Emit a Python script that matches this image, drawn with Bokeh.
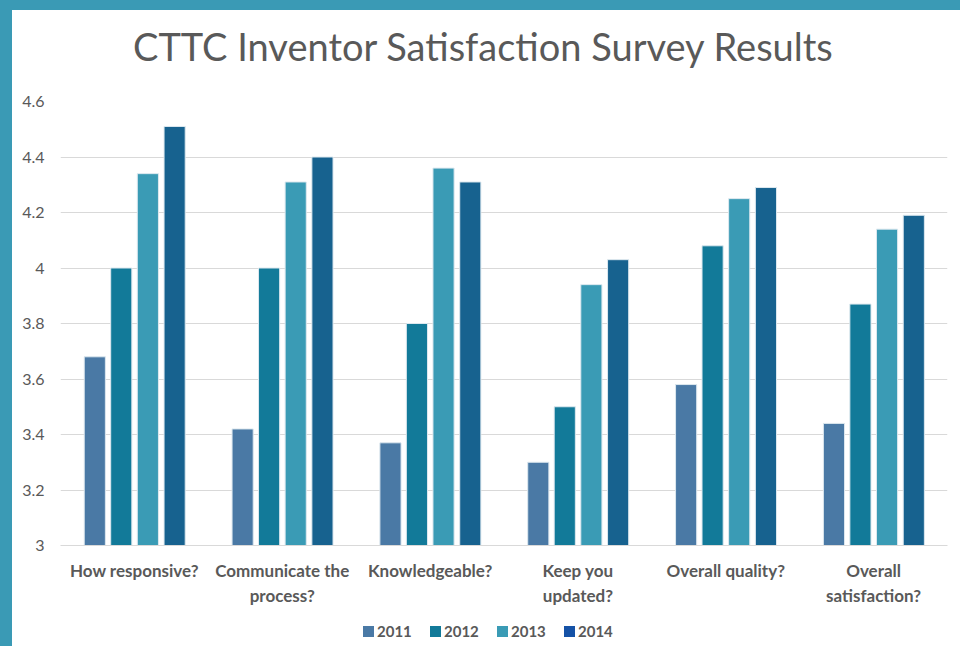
from bokeh.plotting import figure
from bokeh.models import FactorRange, Range1d, FixedTicker, ColumnDataSource, Div
from bokeh.layouts import column, row
from bokeh.transform import dodge
from bokeh.embed import file_html
from bokeh.resources import INLINE

title_text = "CTTC Inventor Satisfaction Survey Results"
categories = ["How responsive?", "Communicate the\nprocess?", "Knowledgeable?",
              "Keep you\nupdated?", "Overall quality?", "Overall\nsatisfaction?"]
years = ["2011", "2012", "2013", "2014"]
v2011 = [3.68, 3.42, 3.37, 3.30, 3.58, 3.44]
v2012 = [4.00, 4.00, 3.80, 3.50, 4.08, 3.87]
v2013 = [4.34, 4.31, 4.36, 3.94, 4.25, 4.14]
v2014 = [4.51, 4.40, 4.31, 4.03, 4.29, 4.19]
yticks = [3, 3.2, 3.4, 3.6, 3.8, 4, 4.2, 4.4, 4.6]

bar_colors = ["#4a79a5", "#127a99", "#3a9bb5", "#17628f"]
legend_colors = ["#4a79a5", "#127a99", "#3a9bb5", "#1552a6"]
offsets = [-0.268, -0.089, 0.091, 0.272]
TEAL = "#3a9ab5"
TITLE_H = 70
LEGEND_H = 40
BOTTOM = 61

src = ColumnDataSource(dict(cat=categories, y2011=v2011, y2012=v2012, y2013=v2013, y2014=v2014))

p = figure(x_range=FactorRange(*categories, range_padding=0), y_range=Range1d(3, 4.6),
           frame_width=887, frame_height=444, output_backend="svg", toolbar_location=None,
           title_location=None,
           min_border_left=48, min_border_right=13, min_border_top=91 - TITLE_H,
           min_border_bottom=BOTTOM)

p.outline_line_color = None
p.background_fill_color = "white"
p.border_fill_color = "white"

for yr, off, col in zip(years, offsets, bar_colors):
    p.vbar(x=dodge("cat", off, range=p.x_range), top="y" + yr, bottom=3, width=0.143,
           source=src, fill_color=col, line_color="#dde8ef", line_width=1)

p.xgrid.grid_line_color = None
p.ygrid.grid_line_color = "#d9d9d9"
p.ygrid.grid_line_width = 1

p.yaxis.ticker = FixedTicker(ticks=yticks)
p.yaxis.major_label_overrides = {3: "3", 4: "4"}
p.yaxis.axis_line_color = None
p.yaxis.major_tick_line_color = None
p.yaxis.minor_tick_line_color = None
p.yaxis.major_label_text_font = "Lato"
p.yaxis.major_label_text_font_size = "16px"
p.yaxis.major_label_text_color = "#595959"
p.yaxis.major_label_standoff = 10

p.xaxis.axis_line_color = "#d9d9d9"
p.xaxis.major_tick_line_color = None
p.xaxis.minor_tick_line_color = None
p.xaxis.major_label_text_font = "Lato"
p.xaxis.major_label_text_font_size = "17px"
p.xaxis.major_label_text_font_style = "bold"
p.xaxis.major_label_text_color = "#595959"
p.xaxis.major_label_standoff = 8

title_div = Div(
    text=('<div style="position:relative; top:17px; left:121px; white-space:nowrap; '
          'font-family:Lato; font-size:38px; line-height:38px; color:#595959;">'
          + title_text + '</div>'),
    width=948, height=TITLE_H, margin=0)

legend_html = ('<div style="position:relative; width:948px; height:%dpx; font-family:Lato; '
               'font-size:15px; font-weight:bold; color:#595959;">' % LEGEND_H)
for i, (yr, col) in enumerate(zip(years, legend_colors)):
    legend_html += ('<div style="position:absolute; left:%dpx; top:14px; height:18px; line-height:18px; '
                    'display:flex; align-items:center; white-space:nowrap;">'
                    '<span style="display:inline-block; width:11px; height:11px; background:%s; '
                    'margin-right:3px;"></span>%s</div>') % (351 + 67 * i, col, yr)
legend_html += '</div>'
legend_div = Div(text=legend_html, width=948, height=LEGEND_H, margin=0)

top_strip = Div(width=960, height=10, margin=0, styles={"background-color": TEAL})
left_strip = Div(width=12, height=636, margin=0, styles={"background-color": TEAL})
layout = column(top_strip,
                row(left_strip, column(title_div, p, legend_div, spacing=0), spacing=0),
                spacing=0)

open("out.html", "w").write(file_html(layout, INLINE))
